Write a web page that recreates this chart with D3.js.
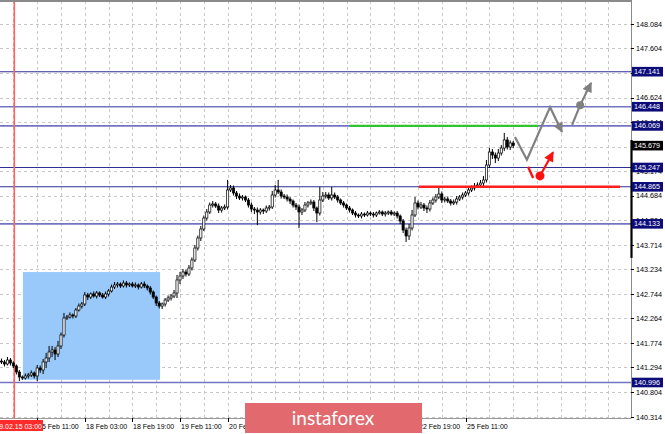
<!DOCTYPE html>
<html>
<head>
<meta charset="utf-8">
<script src="https://cdn.jsdelivr.net/npm/d3@7"></script>
<style>
    body { margin: 0; background: #fff; }
    svg { display: block; }
</style>
</head>
<body>
<div id="chart"></div>
<script>
// ===========================================================
// DATA (H1 candles)
// ===========================================================
const firstOpen = 141.42;

const closes = [
    141.402,141.362,141.441,141.382,141.323,141.204,141.105,141.085,141.125,141.144,
    141.184,141.125,141.283,141.243,141.402,141.481,141.599,141.639,141.560,141.718,
    141.935,142.271,142.291,142.331,142.311,142.429,142.508,142.548,142.726,142.686,
    142.746,142.706,142.766,142.726,142.686,142.746,142.805,142.884,142.924,142.944,
    142.904,142.963,142.924,142.944,142.904,142.924,142.884,142.944,142.904,142.865,
    142.785,142.686,142.568,142.508,142.548,142.627,142.667,142.706,142.766,143.023,
    143.102,143.181,143.141,143.260,143.418,143.655,143.853,144.031,144.248,144.367,
    144.505,144.525,144.485,144.406,144.446,144.466,144.802,144.841,144.743,144.683,
    144.644,144.663,144.604,144.505,144.426,144.406,144.367,144.406,144.387,144.446,
    144.466,144.703,144.802,144.762,144.683,144.663,144.624,144.584,144.505,144.466,
    144.367,144.406,144.505,144.545,144.564,144.446,144.347,144.604,144.683,144.703,
    144.644,144.703,144.663,144.604,144.545,144.505,144.446,144.406,144.347,144.308,
    144.288,144.327,144.308,144.347,144.327,144.308,144.347,144.367,144.327,144.347,
    144.367,144.327,144.347,144.288,144.189,144.011,143.893,144.051,144.308,144.545,
    144.466,144.505,144.446,144.426,144.545,144.604,144.663,144.723,144.604,144.624,
    144.584,144.545,144.564,144.624,144.663,144.703,144.743,144.802,144.841,144.881,
    144.901,144.940,145.000,145.296,145.553,145.494,145.434,145.533,145.632,145.791,
    145.652,145.731,145.679
];

const wickUp = [
    0.05,0.04,0.06,0.04,0.03,0.03,0.04,0.03,0.05,0.04,
    0.05,0.03,0.06,0.05,0.06,0.10,0.12,0.08,0.06,0.10,
    0.05,0.10,0.04,0.05,0.03,0.04,0.05,0.04,0.06,0.04,
    0.03,0.05,0.04,0.03,0.04,0.05,0.04,0.05,0.06,0.04,
    0.03,0.05,0.04,0.03,0.04,0.05,0.03,0.04,0.05,0.03,
    0.04,0.03,0.03,0.04,0.03,0.04,0.05,0.04,0.06,0.10,
    0.08,0.06,0.05,0.06,0.05,0.06,0.05,0.06,0.05,0.06,
    0.05,0.06,0.04,0.05,0.04,0.05,0.20,0.06,0.05,0.04,
    0.05,0.04,0.03,0.04,0.05,0.04,0.05,0.04,0.03,0.05,
    0.04,0.08,0.10,0.20,0.05,0.04,0.05,0.04,0.03,0.04,
    0.05,0.04,0.06,0.04,0.05,0.04,0.03,0.26,0.08,0.06,
    0.05,0.16,0.05,0.04,0.03,0.04,0.03,0.04,0.03,0.04,
    0.03,0.04,0.03,0.04,0.03,0.04,0.03,0.04,0.03,0.04,
    0.03,0.04,0.03,0.04,0.03,0.04,0.05,0.08,0.10,0.12,
    0.05,0.06,0.04,0.05,0.06,0.05,0.06,0.12,0.05,0.04,
    0.05,0.04,0.05,0.06,0.04,0.05,0.04,0.06,0.05,0.06,
    0.05,0.06,0.08,0.10,0.08,0.06,0.05,0.08,0.06,0.14,
    0.06,0.05,0.04
];

const wickDn = [
    0.04,0.05,0.03,0.05,0.04,0.05,0.08,0.04,0.03,0.05,
    0.04,0.05,0.10,0.06,0.08,0.12,0.08,0.10,0.12,0.06,
    0.06,0.05,0.04,0.03,0.05,0.04,0.03,0.05,0.04,0.06,
    0.04,0.03,0.05,0.04,0.03,0.04,0.05,0.03,0.04,0.05,
    0.04,0.03,0.05,0.04,0.03,0.04,0.05,0.03,0.04,0.05,
    0.05,0.04,0.06,0.05,0.06,0.05,0.04,0.05,0.04,0.10,
    0.08,0.06,0.05,0.04,0.05,0.04,0.05,0.06,0.04,0.05,
    0.04,0.05,0.04,0.06,0.05,0.04,0.05,0.04,0.05,0.06,
    0.04,0.05,0.04,0.05,0.06,0.08,0.26,0.05,0.06,0.04,
    0.05,0.04,0.05,0.04,0.05,0.04,0.05,0.06,0.05,0.06,
    0.32,0.06,0.04,0.05,0.04,0.06,0.18,0.05,0.04,0.05,
    0.04,0.05,0.04,0.05,0.04,0.05,0.04,0.05,0.04,0.05,
    0.04,0.05,0.04,0.03,0.04,0.05,0.04,0.03,0.04,0.05,
    0.04,0.03,0.04,0.05,0.06,0.06,0.12,0.08,0.05,0.04,
    0.05,0.04,0.06,0.08,0.05,0.04,0.05,0.04,0.06,0.05,
    0.04,0.05,0.04,0.05,0.04,0.05,0.04,0.05,0.04,0.05,
    0.04,0.05,0.06,0.05,0.06,0.08,0.10,0.06,0.05,0.06,
    0.05,0.06,0.05
];

// price scale ticks (grid); labels hidden under the current-price box are skipped
const priceTicks = [148.084,147.604,147.114,146.624,146.144,145.654,145.174,144.684,
                    144.204,143.714,143.234,142.744,142.264,141.774,141.294,140.804,140.314];
const hiddenPriceLabels = [145.654];

// time axis
const timeTickIdx = [12,28,44,60,76,92,108,124,140,156];
const timeTickText = ["15 Feb 11:00","18 Feb 03:00","18 Feb 19:00","19 Feb 11:00","20 Feb 03:00",
                      "20 Feb 19:00","21 Feb 11:00","22 Feb 03:00","22 Feb 19:00","25 Feb 11:00"];
const hiddenTimeLabels = ["20 Feb 19:00","21 Feb 11:00","22 Feb 03:00"];   // covered by the logo
const separatorIdx = 4.3;
const separatorText = "2019.02.15 03:00";

// horizontal levels
const levels = [147.141, 146.448, 146.069, 145.247, 144.865, 144.133, 140.996];
const lastPrice = 145.679;

// annotations (index, price)
const zoneIdx = [7.2, 53.3];
const zonePrice = [141.05, 143.18];
const greenIdx = [117.1, 180.3];
const greenPrice = 146.069;
const redIdx = [140.3, 207.9];
const redPrice = 144.865;

const grayPathIdx   = [172.6, 176.6, 184.4, 188.4];
const grayPathPrice = [145.85, 145.40, 146.44, 145.95];
const grayUpIdx     = [191.8, 194.1];
const grayUpPrice   = [146.09, 146.42];
const grayDot       = [194.5, 146.48];
const grayArrowEnd  = [198.2, 146.92];

const redDashIdx    = [177.0, 178.7];
const redDashPrice  = [145.26, 145.04];
const redDot        = [181.0, 145.08];
const redArrowEnd   = [185.4, 145.55];

// scale bar on the price axis
const axisBarPrice = [145.79, 143.46];

// ===========================================================
// LAYOUT
// ===========================================================
const width = 665;
const height = 434;
const plotRight = 631;
const plotTop = 1;
const plotBottom = 418;

const svg = d3.select("#chart").append("svg")
    .attr("width", width)
    .attr("height", height)
    .style("font-family", "'Liberation Sans', Arial, sans-serif");

const x = d3.scaleLinear().domain([0, 212]).range([1.5, 1.5 + 212 * 2.975]);
const y = d3.scaleLinear().domain([140.314, 148.084]).range([417, 24]);

const defs = svg.append("defs");
function addMarker(id, color) {
    defs.append("marker")
        .attr("id", id)
        .attr("viewBox", "0 0 10 10")
        .attr("refX", 9)
        .attr("refY", 5)
        .attr("markerUnits", "userSpaceOnUse")
        .attr("markerWidth", 11)
        .attr("markerHeight", 10)
        .attr("orient", "auto")
        .append("path")
        .attr("d", "M0,0 L10,5 L0,10 z")
        .attr("fill", color);
}
addMarker("arrowGray", "#808080");
addMarker("arrowRed", "#ff1010");

defs.append("clipPath").attr("id", "plotClip")
    .append("rect").attr("x", 0).attr("y", plotTop).attr("width", plotRight).attr("height", plotBottom - plotTop);

// ===========================================================
// GRID
// ===========================================================
const grid = svg.append("g").attr("clip-path", "url(#plotClip)");
const gridIdx = d3.range(4, 212, 8);

grid.selectAll(".vgrid").data(gridIdx).join("line")
    .attr("x1", d => Math.round(x(d)) + 0.5).attr("x2", d => Math.round(x(d)) + 0.5)
    .attr("y1", plotTop).attr("y2", plotBottom)
    .attr("stroke", "#c8c8c8").attr("stroke-dasharray", "3,3");

grid.selectAll(".hgrid").data(priceTicks).join("line")
    .attr("x1", 0).attr("x2", plotRight)
    .attr("y1", d => Math.round(y(d)) + 0.5).attr("y2", d => Math.round(y(d)) + 0.5)
    .attr("stroke", "#c8c8c8").attr("stroke-dasharray", "3,3");

// ===========================================================
// BLUE ZONE
// ===========================================================
grid.append("rect")
    .attr("x", x(zoneIdx[0])).attr("y", y(zonePrice[1]))
    .attr("width", x(zoneIdx[1]) - x(zoneIdx[0]))
    .attr("height", y(zonePrice[0]) - y(zonePrice[1]))
    .attr("fill", "#99c9fb");

// ===========================================================
// LEVELS
// ===========================================================
const lightLevels = new Set([146.448, 146.069, 144.133, 140.996]);
grid.selectAll(".level").data(levels).join("line")
    .attr("x1", 0).attr("x2", plotRight)
    .attr("y1", d => y(d)).attr("y2", d => y(d))
    .attr("stroke", d => lightLevels.has(d) ? "#7373c4" : "#2e2e96")
    .attr("stroke-width", d => lightLevels.has(d) ? 1.6 : 1.1);

// separator
grid.append("line")
    .attr("x1", x(separatorIdx)).attr("x2", x(separatorIdx))
    .attr("y1", plotTop).attr("y2", plotBottom)
    .attr("stroke", "#ff6060").attr("stroke-width", 1.6);

// ===========================================================
// CANDLES
// ===========================================================
const candles = closes.map((c, i) => {
    const o = i === 0 ? firstOpen : closes[i - 1];
    return {
        i, o, c,
        h: Math.max(o, c) + wickUp[i],
        l: Math.min(o, c) - wickDn[i]
    };
});

const cg = grid.append("g");
cg.selectAll(".wick").data(candles).join("line")
    .attr("x1", d => x(d.i)).attr("x2", d => x(d.i))
    .attr("y1", d => y(d.h)).attr("y2", d => y(d.l))
    .attr("stroke", "#000").attr("stroke-width", 1);

cg.selectAll(".body").data(candles).join("rect")
    .attr("x", d => x(d.i) - 1.1)
    .attr("y", d => y(Math.max(d.o, d.c)))
    .attr("width", 2.2)
    .attr("height", d => Math.max(1, Math.abs(y(d.o) - y(d.c))))
    .attr("fill", d => d.c > d.o ? "#fff" : "#000")
    .attr("stroke", "#000").attr("stroke-width", 0.7);

// ===========================================================
// ANNOTATIONS
// ===========================================================
grid.append("line")
    .attr("x1", x(greenIdx[0])).attr("x2", x(greenIdx[1]))
    .attr("y1", y(greenPrice)).attr("y2", y(greenPrice))
    .attr("stroke", "#2fc42f").attr("stroke-width", 2.4);

grid.append("line")
    .attr("x1", x(redIdx[0])).attr("x2", x(redIdx[1]))
    .attr("y1", y(redPrice)).attr("y2", y(redPrice))
    .attr("stroke", "#ff1f1f").attr("stroke-width", 2.4);

const line = d3.line().x(d => x(d[0])).y(d => y(d[1]));

grid.append("path")
    .attr("d", line(grayPathIdx.map((v, k) => [v, grayPathPrice[k]])))
    .attr("fill", "none").attr("stroke", "#808080").attr("stroke-width", 2.2)
    .attr("marker-end", "url(#arrowGray)");

grid.append("path")
    .attr("d", line(grayUpIdx.map((v, k) => [v, grayUpPrice[k]])))
    .attr("fill", "none").attr("stroke", "#808080").attr("stroke-width", 2.2);

grid.append("circle")
    .attr("cx", x(grayDot[0])).attr("cy", y(grayDot[1])).attr("r", 4)
    .attr("fill", "#808080");

grid.append("path")
    .attr("d", line([grayDot, grayArrowEnd]))
    .attr("fill", "none").attr("stroke", "#808080").attr("stroke-width", 2.2)
    .attr("marker-end", "url(#arrowGray)");

grid.append("path")
    .attr("d", line(redDashIdx.map((v, k) => [v, redDashPrice[k]])))
    .attr("fill", "none").attr("stroke", "#ff1010").attr("stroke-width", 2.4);

grid.append("circle")
    .attr("cx", x(redDot[0])).attr("cy", y(redDot[1])).attr("r", 4.5)
    .attr("fill", "#ff1010");

grid.append("path")
    .attr("d", line([redDot, redArrowEnd]))
    .attr("fill", "none").attr("stroke", "#ff1010").attr("stroke-width", 2.2)
    .attr("marker-end", "url(#arrowRed)");

// ===========================================================
// FRAME
// ===========================================================
svg.append("line").attr("x1", 0).attr("x2", plotRight + 0.5).attr("y1", plotTop).attr("y2", plotTop)
    .attr("stroke", "#8a8a8a").attr("stroke-width", 2);
svg.append("line").attr("x1", plotRight + 0.5).attr("x2", plotRight + 0.5).attr("y1", 0).attr("y2", plotBottom)
    .attr("stroke", "#8a8a8a").attr("stroke-width", 1);
svg.append("line").attr("x1", 0).attr("x2", plotRight + 0.5).attr("y1", plotBottom + 0.5).attr("y2", plotBottom + 0.5)
    .attr("stroke", "#9a9a9a").attr("stroke-width", 1);

svg.append("line")
    .attr("x1", plotRight + 0.5).attr("x2", plotRight + 0.5)
    .attr("y1", y(axisBarPrice[0])).attr("y2", y(axisBarPrice[1]))
    .attr("stroke", "#000").attr("stroke-width", 2.2);

// ===========================================================
// PRICE AXIS
// ===========================================================
const pa = svg.append("g").style("font-size", "7.2px");
pa.selectAll(".ptick").data(priceTicks).join("line")
    .attr("x1", plotRight).attr("x2", plotRight + 3)
    .attr("y1", d => Math.round(y(d)) + 0.5).attr("y2", d => Math.round(y(d)) + 0.5)
    .attr("stroke", "#000");
pa.selectAll(".plabel").data(priceTicks.filter(d => !hiddenPriceLabels.includes(d))).join("text")
    .attr("x", 636).attr("y", d => y(d))
    .attr("dy", "0.35em")
    .attr("fill", "#000")
    .text(d => d.toFixed(3));

function priceBox(v, color) {
    const g = pa.append("g");
    g.append("rect")
        .attr("x", plotRight + 1).attr("y", y(v) - 4.8)
        .attr("width", 31).attr("height", 9.6)
        .attr("fill", color);
    g.append("text")
        .attr("x", 634).attr("y", y(v)).attr("dy", "0.35em")
        .attr("fill", "#fff")
        .text(v.toFixed(3));
}
levels.forEach(v => priceBox(v, "#0b0b7a"));
priceBox(lastPrice, "#000");

// ===========================================================
// TIME AXIS
// ===========================================================
const ta = svg.append("g").style("font-size", "7px");
ta.selectAll(".ttick").data(timeTickIdx).join("line")
    .attr("x1", d => Math.round(x(d)) + 0.5).attr("x2", d => Math.round(x(d)) + 0.5)
    .attr("y1", plotBottom).attr("y2", plotBottom + 4)
    .attr("stroke", "#000");

const timeLabels = timeTickIdx
    .map((d, k) => ({ d, t: timeTickText[k] }))
    .filter(e => !hiddenTimeLabels.includes(e.t));
ta.selectAll(".tlabel").data(timeLabels).join("text")
    .attr("x", e => Math.round(x(e.d)) + 1).attr("y", 429)
    .attr("fill", "#000")
    .text(e => e.t);

ta.append("rect")
    .attr("x", 0).attr("y", 420).attr("width", 43).attr("height", 11)
    .attr("fill", "#ff2a2a");
ta.append("text")
    .attr("x", 42).attr("y", 429)
    .attr("text-anchor", "end")
    .attr("fill", "#fff")
    .text(separatorText);

// ===========================================================
// LOGO
// ===========================================================
const logo = svg.append("g");
logo.append("rect")
    .attr("x", 245).attr("y", 403).attr("width", 177).attr("height", 30)
    .attr("fill", "#e2696d");
logo.append("text")
    .attr("x", 333).attr("y", 425)
    .attr("text-anchor", "middle")
    .attr("fill", "#fff")
    .style("font-family", "Lato, 'Open Sans', sans-serif")
    .style("font-size", "19px")
    .text("instaforex");
</script>
</body>
</html>
